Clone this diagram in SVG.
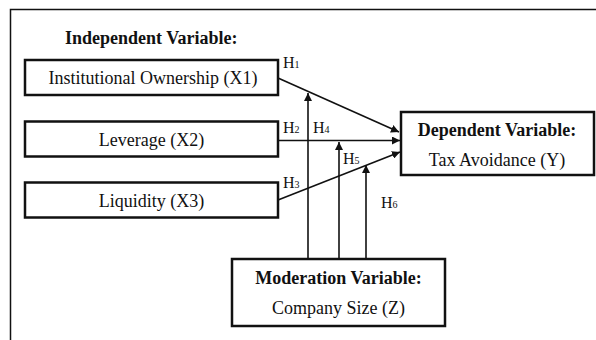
<svg xmlns="http://www.w3.org/2000/svg" width="596" height="340" viewBox="0 0 596 340">
<defs>
<style>
text{font-family:"Liberation Serif","Times New Roman",serif;fill:#111;}
.t{font-size:18px;}
.b{font-size:18px;font-weight:bold;}
.h{font-size:16px;}
.s{font-size:10px;}
.box{fill:#fff;stroke:#111;stroke-width:2.5;}
.ln{stroke:#111;stroke-width:1.6;fill:none;}
</style>
<marker id="ah" viewBox="0 0 10 10" refX="10" refY="5" markerWidth="8" markerHeight="8" markerUnits="userSpaceOnUse" orient="auto">
<path d="M0,0 L10,5 L0,10 z" fill="#111"/>
</marker>
</defs>
<rect width="596" height="340" fill="#fff"/>
<path d="M10.5,340 V9.5 H596" fill="none" stroke="#111" stroke-width="1.5"/>
<text class="b" x="65" y="44">Independent Variable:</text>
<g id="connectors">
<line class="ln" x1="278" y1="78" x2="399" y2="132" marker-end="url(#ah)"/>
<line class="ln" x1="278" y1="140.5" x2="400" y2="140.5" marker-end="url(#ah)"/>
<line class="ln" x1="278" y1="200" x2="400" y2="152" marker-end="url(#ah)"/>
<line class="ln" x1="308" y1="263" x2="308" y2="93" marker-end="url(#ah)"/>
<line class="ln" x1="339" y1="259" x2="339" y2="142" marker-end="url(#ah)"/>
<line class="ln" x1="366" y1="259" x2="366" y2="165" marker-end="url(#ah)"/>
<text class="h" x="283" y="68">H<tspan class="s">1</tspan></text>
<text class="h" x="283" y="133">H<tspan class="s">2</tspan></text>
<text class="h" x="283" y="188">H<tspan class="s">3</tspan></text>
<text class="h" x="313" y="133">H<tspan class="s">4</tspan></text>
<text class="h" x="343" y="164">H<tspan class="s">5</tspan></text>
<text class="h" x="381" y="208">H<tspan class="s">6</tspan></text>
</g>
<g id="x1"><rect class="box" x="25" y="60" width="253" height="35"/><text class="t" x="153" y="84" text-anchor="middle">Institutional Ownership (X1)</text></g>
<g id="x2"><rect class="box" x="25" y="121.5" width="253" height="35"/><text class="t" x="151.5" y="145.5" text-anchor="middle">Leverage (X2)</text></g>
<g id="x3"><rect class="box" x="25" y="182.5" width="253" height="35"/><text class="t" x="151.5" y="206.5" text-anchor="middle">Liquidity (X3)</text></g>
<g id="y"><rect class="box" x="401" y="112" width="193" height="63"/><text class="b" x="497" y="136" text-anchor="middle">Dependent Variable:</text><text class="t" x="497" y="166" text-anchor="middle">Tax Avoidance (Y)</text></g>
<g id="z"><rect class="box" x="232" y="259" width="213" height="67"/><text class="b" x="338.5" y="284" text-anchor="middle">Moderation Variable:</text><text class="t" x="338.5" y="314" text-anchor="middle">Company Size (Z)</text></g>
</svg>
